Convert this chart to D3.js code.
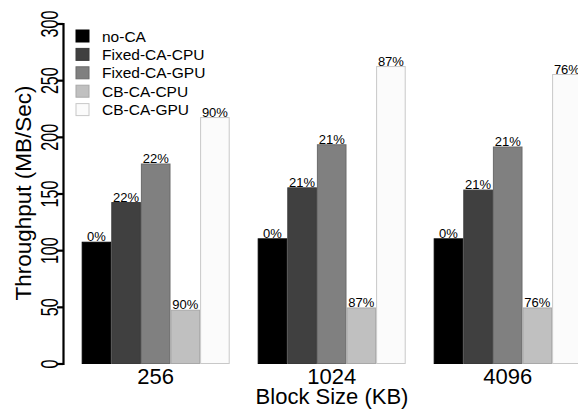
<!DOCTYPE html>
<html><head><meta charset="utf-8">
<script src="https://cdn.jsdelivr.net/npm/d3@7"></script>
<style>body{margin:0;background:#fff}svg{display:block}text{font-family:"Liberation Sans",Arial,sans-serif}</style>
</head><body><svg id="c" width="578" height="409"></svg>
<script>
const categories = ["256", "1024", "4096"];
const series = ["no-CA", "Fixed-CA-CPU", "Fixed-CA-GPU", "CB-CA-CPU", "CB-CA-GPU"];
const noCA      = [107, 110, 110];
const fixedCPU  = [142, 155, 153];
const fixedGPU  = [176, 193, 191];
const cbCPU     = [47, 49, 49];
const cbGPU     = [217, 262, 255];
const labels = [
  ["0%", "0%", "0%"],
  ["22%", "21%", "21%"],
  ["22%", "21%", "21%"],
  ["90%", "87%", "76%"],
  ["90%", "87%", "76%"]
];
const yTicks = [0, 50, 100, 150, 200, 250, 300];
const colors = ["#000000", "#404040", "#808080", "#c0c0c0", "#fbfbfb"];
const strokes = ["#000000", "#3a3a3a", "#6a6a6a", "#a8a8a8", "#c8c8c8"];

const values = [noCA, fixedCPU, fixedGPU, cbCPU, cbGPU];
const svg = d3.select("#c");
const y = d3.scaleLinear().domain([0, 300]).range([363.5, 23.5]);
const x0 = d3.scaleBand().domain(categories).range([81.7, 581.7]).paddingInner(28/176).paddingOuter(0);
const x1 = d3.scaleBand().domain(series).range([0, x0.bandwidth()]);

const data = [];
categories.forEach((c, ci) => series.forEach((s, si) => data.push({c, s, si, v: values[si][ci], l: labels[si][ci]})));

const g = svg.append("g");
g.selectAll("rect.bar").data(data).join("rect").attr("class","bar")
  .attr("x", d => x0(d.c) + x1(d.s) + 0.5)
  .attr("y", d => y(d.v))
  .attr("width", x1.bandwidth() - 1)
  .attr("height", d => y(0) - y(d.v))
  .attr("fill", d => colors[d.si])
  .attr("stroke", d => strokes[d.si]).attr("stroke-width", 1);

g.selectAll("text.lbl").data(data).join("text").attr("class","lbl")
  .attr("x", d => x0(d.c) + x1(d.s) + x1.bandwidth()/2)
  .attr("y", d => y(d.v) - 1)
  .attr("text-anchor", "middle").attr("font-size", 13).attr("fill", "#000")
  .text(d => d.l);

// y axis
const ax = svg.append("g").attr("transform", "translate(63,0)")
  .call(d3.axisLeft(y).tickValues(yTicks).tickSize(6).tickPadding(0).tickFormat(d3.format("d")));
ax.select(".domain").attr("stroke-width", 2.2).attr("stroke", "#000");
ax.selectAll(".tick line").attr("stroke-width", 2.2).attr("stroke", "#000");
ax.selectAll(".tick text").attr("transform", "translate(-5,0) rotate(-90) scale(0.7,1)")
  .attr("x", 0).attr("y", 0).attr("dy", 0).attr("text-anchor", "middle")
  .attr("font-size", 23).attr("font-family", "Liberation Sans, Arial, sans-serif").attr("fill", "#000");

// x category labels
svg.selectAll("text.cat").data(categories).join("text").attr("class","cat")
  .attr("x", d => x0(d) + x0.bandwidth()/2).attr("y", 384)
  .attr("text-anchor", "middle").attr("font-size", 22).text(d => d);

svg.append("text").attr("x", 332).attr("y", 404).attr("text-anchor", "middle")
  .attr("font-size", 22).text("Block Size (KB)");
svg.append("text").attr("transform", "translate(31,193) rotate(-90)").attr("text-anchor", "middle")
  .attr("font-size", 22.5).text("Throughput (MB/Sec)");

// legend
const lg = svg.append("g");
series.forEach((s, i) => {
  const cy = 36 + i * 18.4;
  lg.append("rect").attr("x", 76).attr("y", cy - 6).attr("width", 13).attr("height", 12)
    .attr("fill", colors[i]).attr("stroke", strokes[i]);
  lg.append("text").attr("x", 102).attr("y", cy).attr("dy", "0.36em").attr("font-size", 15.5).text(s);
});
</script></body></html>
